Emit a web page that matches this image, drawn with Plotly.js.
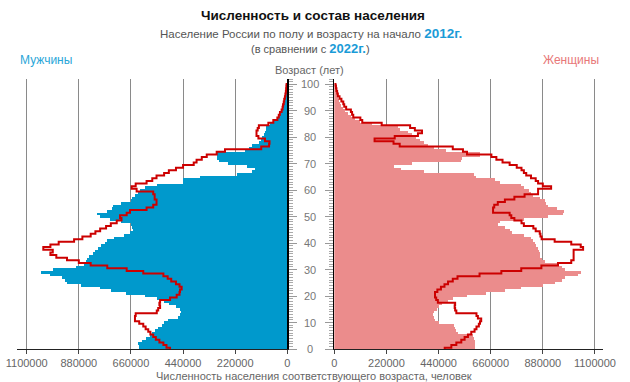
<!DOCTYPE html>
<html><head><meta charset="utf-8">
<script src="https://cdn.plot.ly/plotly-3.0.1.min.js"></script>
<style>html,body{margin:0;padding:0;background:#fff}#chart{width:630px;height:382px}</style>
</head><body><div id="chart"></div>
<script>
const ages = [0,1,2,3,4,5,6,7,8,9,10,11,12,13,14,15,16,17,18,19,20,21,22,23,24,25,26,27,28,29,30,31,32,33,34,35,36,37,38,39,40,41,42,43,44,45,46,47,48,49,50,51,52,53,54,55,56,57,58,59,60,61,62,63,64,65,66,67,68,69,70,71,72,73,74,75,76,77,78,79,80,81,82,83,84,85,86,87,88,89,90,91,92,93,94,95,96,97,98,99,100];
// Men 2012 (thousands)
const men2012 = [625,628,630,612,595,580,570,560,545,530,520,505,462,452,450,455,470,500,520,550,600,680,745,790,870,930,940,950,1000,1040,990,890,860,850,845,835,820,810,800,785,770,760,730,690,665,650,655,660,700,750,790,805,762,740,735,700,660,655,645,630,620,600,551,440,440,368,214,150,136,170,250,290,295,297,297,180,160,150,120,110,105,100,96,92,88,75,60,45,35,28,22,18,15,12,10,8,6,5,4,3,2];
// Men 2022 (thousands)
const men2022 = [495,510,523,540,555,566,578,587,598,608,625,643,643,640,551,545,537,540,537,495,467,455,453,446,455,470,490,505,523,608,678,760,830,880,930,975,1000,990,1030,1000,965,900,865,830,810,790,765,745,720,700,706,678,664,594,566,552,552,560,560,566,636,657,640,594,570,552,520,500,470,440,395,383,361,340,298,263,110,77,75,94,122,130,130,125,120,80,59,42,36,31,24,20,18,15,13,10,8,6,5,4,3];
// Women 2012 (thousands)
const women2012 = [592,595,595,592,590,585,520,515,510,505,440,425,420,418,420,432,440,455,480,500,560,640,720,790,880,930,960,975,1030,1040,975,960,940,890,875,870,868,865,860,850,845,840,830,800,750,740,720,690,700,800,900,965,970,940,900,895,890,870,840,830,820,800,790,700,680,600,590,380,280,250,330,535,540,615,615,470,420,395,380,360,345,330,310,276,270,160,110,86,70,58,45,38,30,25,20,15,12,9,7,5,3];
// Women 2022 (thousands)
const women2022 = [466,494,515,536,550,564,578,592,600,610,615,620,606,600,515,510,508,510,437,430,425,425,435,450,465,480,500,520,613,705,789,874,944,1000,1010,1010,1010,1010,1050,1040,1000,930,875,870,867,850,840,800,790,760,747,740,670,670,675,690,720,760,803,860,860,915,880,860,850,830,810,800,790,770,740,710,684,663,560,543,500,276,250,170,255,353,370,340,320,200,118,110,80,75,70,50,42,38,30,22,15,12,9,7,5];
const xTicks = [0,220000,440000,660000,880000,1100000];
const xTickText = ['0','220000','440000','660000','880000','1100000'];
const ageTicks = [0,10,20,30,40,50,60,70,80,90,100];

const k = v => v.map(x => x*1000);
function stepPts(vals){
  const xs=[], ys=[];
  vals.forEach((v,i)=>{ xs.push(v*1000); ys.push(ages[i]-0.5); });
  xs.push(vals[vals.length-1]*1000); ys.push(ages[ages.length-1]+0.5);
  return {xs, ys};
}
const m22 = stepPts(men2022), w22 = stepPts(women2022);
const BLUE='#0099cc', PINK='#eb8c8c', RED='#cc0000';
const traces = [
  {type:'bar', orientation:'h', x:k(men2012), y:ages, width:1, marker:{color:BLUE, line:{width:0}}, xaxis:'x', yaxis:'y', hoverinfo:'skip'},
  {type:'bar', orientation:'h', x:k(women2012), y:ages, width:1, marker:{color:PINK, line:{width:0}}, xaxis:'x2', yaxis:'y2', hoverinfo:'skip'},
  {type:'scatter', mode:'lines', x:m22.xs, y:m22.ys, line:{shape:'vh', color:RED, width:2}, xaxis:'x', yaxis:'y', hoverinfo:'skip'},
  {type:'scatter', mode:'lines', x:w22.xs, y:w22.ys, line:{shape:'vh', color:RED, width:2}, xaxis:'x2', yaxis:'y2', hoverinfo:'skip'}
];
const W=630, H=382, T=79, B=33, PH=H-T-B;
const py = p => (H-B-p)/PH;
const GRAY='#666';
const FONT='Liberation Sans, Arial, sans-serif';
const xBase = {showgrid:true, gridcolor:'#8a8a8a', gridwidth:1, zeroline:false, showline:true, linecolor:'#222', linewidth:1,
  ticks:'outside', ticklen:4, tickcolor:'#444', tickvals:xTicks, ticktext:xTickText, tickfont:{size:11,color:GRAY,family:FONT}, fixedrange:true};
const yBase = {range:[0,102], showgrid:false, zeroline:false, showline:true, linecolor:'#000', linewidth:1.5, ticks:'outside', ticklen:8,
  tickcolor:'#999', tickvals:ageTicks, showticklabels:false, minor:{dtick:1, ticks:'outside', ticklen:4, tickcolor:'#aaa'}, fixedrange:true};
const ann = [];
ageTicks.forEach(a=>ann.push({xref:'paper', yref:'y', x:310/W, y:a, text:String(a), showarrow:false, xanchor:'center', yanchor:'middle', font:{size:11,color:'#777',family:FONT}}));
ann.push({xref:'paper', yref:'paper', x:311/W, y:py(34), text:'<span style="color:#555">Население России по полу и возрасту на начало </span><b><span style="color:#1a9bd7;font-size:13.5px">2012г.</span></b>', showarrow:false, xanchor:'center', yanchor:'middle', font:{size:11.5,family:FONT}});
ann.push({xref:'paper', yref:'paper', x:310/W, y:py(49), text:'<span style="color:#555">(в сравнении с </span><b><span style="color:#1a9bd7;font-size:13px">2022г.</span></b><span style="color:#555">)</span>', showarrow:false, xanchor:'center', yanchor:'middle', font:{size:11,family:FONT}});
ann.push({xref:'paper', yref:'paper', x:18/W, y:py(60), text:'Мужчины', showarrow:false, xanchor:'left', yanchor:'middle', font:{size:12,color:'#2aa6d8',family:FONT}});
ann.push({xref:'paper', yref:'paper', x:601/W, y:py(60), text:'Женщины', showarrow:false, xanchor:'right', yanchor:'middle', font:{size:12,color:'#e87878',family:FONT}});
ann.push({xref:'paper', yref:'paper', x:309/W, y:py(70), text:'Возраст (лет)', showarrow:false, xanchor:'center', yanchor:'middle', font:{size:11,color:'#666',family:FONT}});
ann.push({xref:'paper', yref:'paper', x:314/W, y:py(376), text:'Численность населения соответствующего возраста, человек', showarrow:false, xanchor:'center', yanchor:'middle', font:{size:11,color:'#666',family:FONT}});
const layout = {
  width:W, height:H, margin:{l:0,r:0,t:T,b:B}, paper_bgcolor:'#fff', plot_bgcolor:'rgba(0,0,0,0)', showlegend:false, bargap:0,
  title:{text:'<b>Численность и состав населения</b>', x:313/W, xanchor:'center', y:1-15/H, yanchor:'middle', font:{size:13.5,color:'#111',family:FONT}},
  xaxis:Object.assign({}, xBase, {domain:[17/W, 287.3/W], range:[1141000,0], anchor:'y'}),
  xaxis2:Object.assign({}, xBase, {domain:[334.3/W, 603/W], range:[0,1134000], anchor:'y2'}),
  yaxis:Object.assign({}, yBase, {anchor:'x', side:'right'}),
  yaxis2:Object.assign({}, yBase, {anchor:'x2', side:'left'}),
  annotations:ann
};
Plotly.newPlot('chart', traces, layout, {staticPlot:true, displayModeBar:false});
</script></body></html>
